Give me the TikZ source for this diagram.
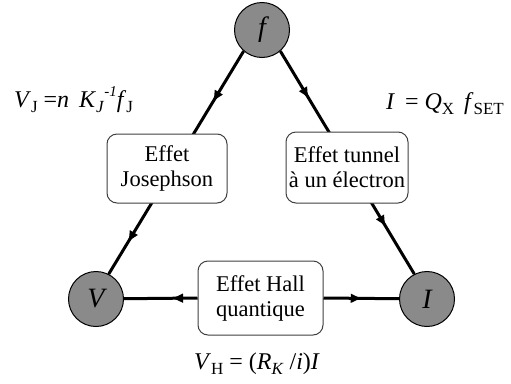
\documentclass[tikz,border=0pt]{standalone}
\usepackage{fontspec}
\setmainfont{Liberation Serif}
\usetikzlibrary{arrows.meta,decorations.markings}
\definecolor{nodegray}{gray}{0.54}
\newcommand\dn[1]{\raisebox{-0.22em}{\fontsize{17}{18}\selectfont #1}}
\newcommand\up[1]{\raisebox{0.45em}{\fontsize{15}{16}\selectfont #1}}
\tikzset{
  circ/.style={circle, draw=black, line width=1pt, fill=nodegray, minimum size=55pt, inner sep=0pt, font=\fontsize{28}{30}\selectfont\itshape},
  effbox/.style={draw=black!75, line width=1pt, rounded corners=10pt, fill=white, align=center, inner sep=0pt, font=\fontsize{22.5}{25}\selectfont},
  conn/.style={line width=3pt},
  mytip/.tip={Latex[length=12pt,width=10pt]},
  eq/.style={anchor=base, inner sep=0pt, font=\fontsize{24}{26}\selectfont},
  twomarks/.style 2 args={postaction={decorate}, decoration={markings,
    mark=at position #1 with {\arrow{mytip}},
    mark=at position #2 with {\arrow{mytip}}}},
  onemark/.style={postaction={decorate}, decoration={markings,
    mark=at position #1 with {\arrow{mytip}}}}
}
\begin{document}
\begin{tikzpicture}[x=1pt,y=-1pt]
\useasboundingbox (0,0) rectangle (511,383);
\node[circ] (f) at (262,30) {f};
\node[circ] (V) at (96,299) {V};
\node[circ] (I) at (427,299) {I};
\draw[conn, twomarks={0.23}{0.86}] (f.229) -- (V.63);
\draw[conn, twomarks={0.215}{0.79}] (f.311) -- (I.117);
\node[effbox, minimum width=120pt, minimum height=69pt] (J) at (167,168.5) {Effet\\Josephson};
\node[effbox, minimum width=122pt, minimum height=71pt] (T) at (347,167.5) {Effet tunnel\\à un électron};
\node[effbox, minimum width=125pt, minimum height=74pt] (H) at (260.5,298) {Effet Hall\\quantique};
\draw[conn, onemark=0.36] (H.west) -- (V);
\draw[conn, onemark=0.52] (H.east) -- (I);
\node[eq] (eJ) at (73.5,107) {\textit{V}\dn{J} =\textit{n}\, \textit{K}\dn{\textit{J}}\up{\textit{-1}}\textit{f}\dn{J}};
\node[eq] (eI) at (445,109) {\textit{I}\, = \textit{Q}\dn{X}\, \textit{f}\dn{SET}};
\node[eq] (eH) at (257,369) {\textit{V}\dn{H} = (\textit{R}\dn{\textit{K}} /\textit{i})\textit{I}};
\end{tikzpicture}
\end{document}
